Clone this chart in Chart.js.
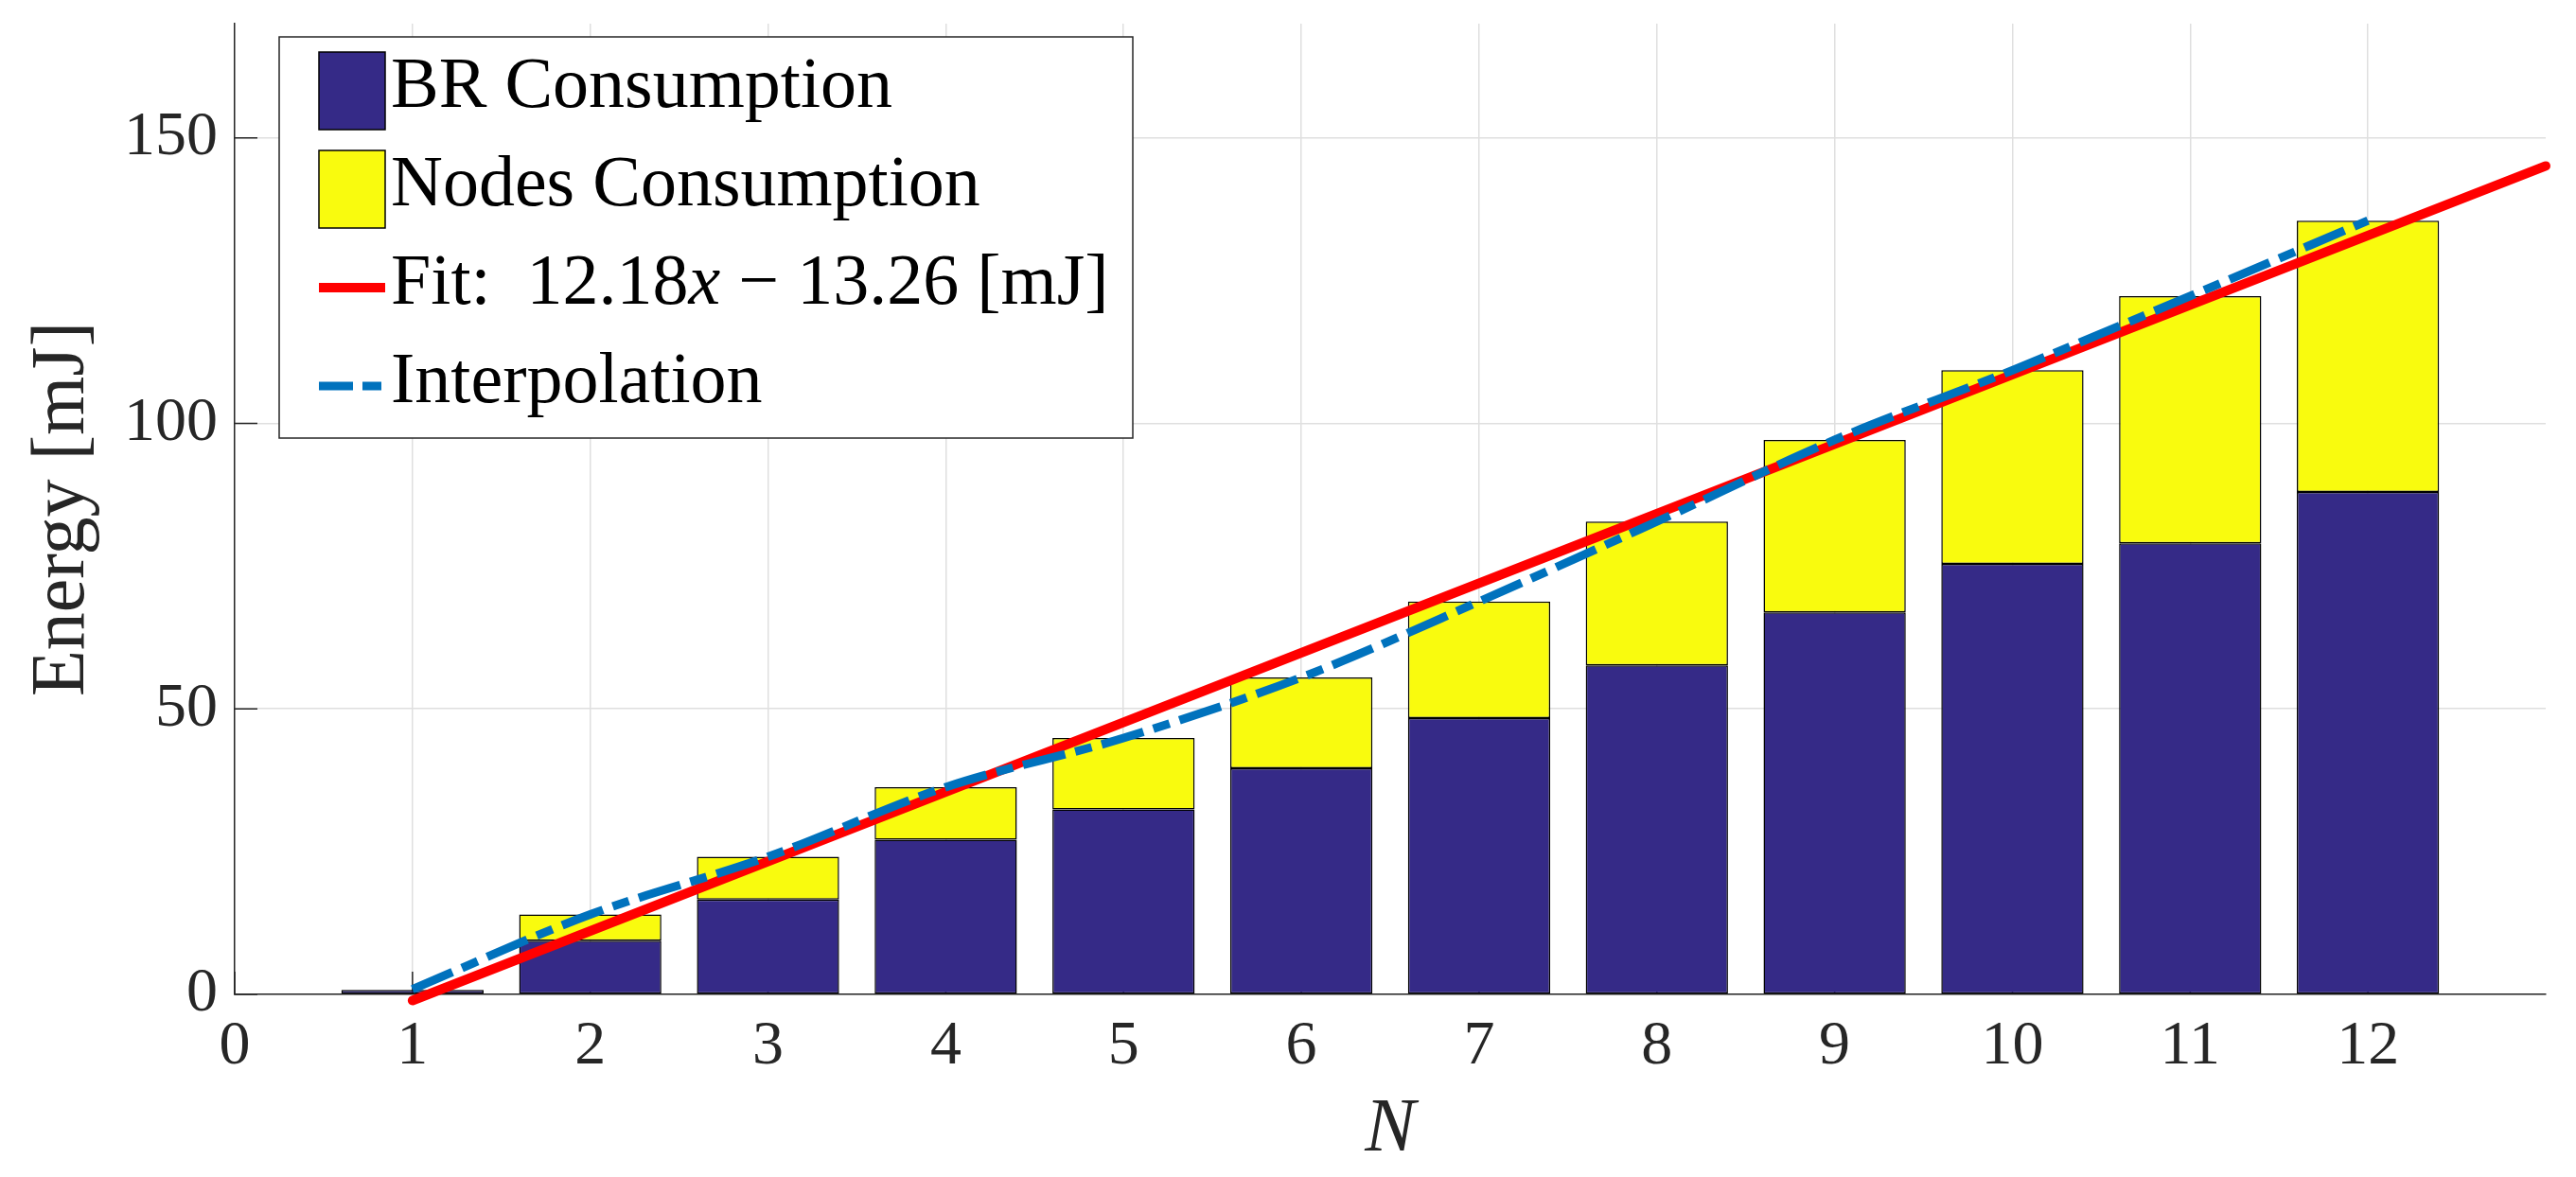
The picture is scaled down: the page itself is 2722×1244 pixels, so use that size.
<!DOCTYPE html>
<html>
<head>
<meta charset="utf-8">
<script src="https://cdn.jsdelivr.net/npm/chart.js@4.4.1/dist/chart.umd.min.js"></script>
<style>
    html, body { margin: 0; padding: 0; background: #fff; }
    #wrap { width: 2722px; height: 1244px; }
</style>
</head>
<body>
<div id="wrap"><canvas id="c" width="2722" height="1244"></canvas></div>
<script>
// values
const N_VALUES = [1, 2, 3, 4, 5, 6, 7, 8, 9, 10, 11, 12];
const BR_CONSUMPTION = [0.8, 9.4, 16.6, 27.1, 32.4, 39.6, 48.4, 57.6, 66.9, 75.4, 79.0, 88.0];
const NODES_CONSUMPTION = [0.0, 4.6, 7.5, 9.2, 12.5, 15.9, 20.4, 25.2, 30.2, 33.9, 43.3, 47.5];
const INTERP_VALUES = [0.9, 14.0, 24.1, 36.3, 44.9, 55.5, 68.8, 82.8, 97.1, 109.3, 122.3, 135.5];
const FIT_X = [1, 13];
const FIT_Y = [-1.08, 145.08];
const X_TICKS = [0, 1, 2, 3, 4, 5, 6, 7, 8, 9, 10, 11, 12];
const Y_TICKS = [0, 50, 100, 150];

const SERIF = "'Liberation Serif', 'DejaVu Serif', serif";
const AXIS_COLOR = '#262626';
const NAVY = '#352A87';
const YELLOW = '#F9FB0E';
const RED = '#FF0000';
const BLUE = '#0072BD';

const toPoints = (xs, ys) => xs.map((x, i) => ({ x: x, y: ys[i] }));

// legend text for the fit line, with the italic variable
const FIT_LABEL_PARTS = [
    { text: 'Fit:  12.18', italic: false },
    { text: 'x', italic: true },
    { text: ' \u2212 13.26 [mJ]', italic: false },
];

const innerTicks = {
    id: 'innerTicks',
    beforeDatasetsDraw(chart) {
        const { ctx, chartArea, scales } = chart;
        const len = 24;
        ctx.save();
        ctx.strokeStyle = AXIS_COLOR;
        ctx.lineWidth = 1.5;
        ctx.beginPath();
        X_TICKS.forEach(v => {
            const px = scales.x.getPixelForValue(v);
            ctx.moveTo(px, chartArea.bottom);
            ctx.lineTo(px, chartArea.bottom - len);
        });
        Y_TICKS.forEach(v => {
            const py = scales.y.getPixelForValue(v);
            ctx.moveTo(chartArea.left, py);
            ctx.lineTo(chartArea.left + len, py);
        });
        ctx.stroke();
        ctx.restore();
    }
};

const boxLegend = {
    id: 'boxLegend',
    afterDraw(chart) {
        const { ctx, chartArea } = chart;
        const left = chartArea.left + 47;
        const top = chartArea.top + 14;
        const w = 902;
        const h = 424;
        const pitch = 104;
        const firstRow = top + 57;
        const patchX = left + 42;
        const patchW = 70;
        const textX = left + 118;

        ctx.save();
        ctx.fillStyle = '#fff';
        ctx.fillRect(left, top, w, h);
        ctx.strokeStyle = AXIS_COLOR;
        ctx.lineWidth = 1.5;
        ctx.strokeRect(left, top, w, h);

        chart.data.datasets.forEach((ds, i) => {
            const cy = firstRow + i * pitch;
            if (ds.type === 'bar') {
                ctx.fillStyle = ds.backgroundColor;
                ctx.fillRect(patchX, cy - 41, patchW, 82);
                ctx.strokeStyle = '#000';
                ctx.lineWidth = 1.5;
                ctx.strokeRect(patchX, cy - 41, patchW, 82);
            } else {
                ctx.strokeStyle = ds.borderColor;
                ctx.lineWidth = ds.borderWidth;
                ctx.setLineDash(ds.legendDash || []);
                ctx.lineCap = 'butt';
                ctx.beginPath();
                ctx.moveTo(patchX, cy);
                ctx.lineTo(patchX + patchW, cy);
                ctx.stroke();
                ctx.setLineDash([]);
            }
            ctx.fillStyle = '#000';
            ctx.textBaseline = 'alphabetic';
            ctx.textAlign = 'left';
            const parts = ds.labelParts || [{ text: ds.label, italic: false }];
            let x = textX;
            parts.forEach(p => {
                ctx.font = (p.italic ? 'italic ' : '') + '76px ' + SERIF;
                ctx.fillText(p.text, x, cy + 17);
                x += ctx.measureText(p.text).width;
            });
        });
        ctx.restore();
    }
};

function draw() {
    const ctx = document.getElementById('c').getContext('2d');
    new Chart(ctx, {
        type: 'bar',
        data: {
            datasets: [
                {
                    type: 'bar',
                    label: 'BR Consumption',
                    data: toPoints(N_VALUES, BR_CONSUMPTION),
                    backgroundColor: NAVY,
                    borderColor: '#000',
                    borderWidth: 1.5,
                    borderSkipped: false,
                    barPercentage: 0.8,
                    categoryPercentage: 1.0,
                    order: 2,
                },
                {
                    type: 'bar',
                    label: 'Nodes Consumption',
                    data: toPoints(N_VALUES, NODES_CONSUMPTION),
                    backgroundColor: YELLOW,
                    borderColor: '#000',
                    borderWidth: 1.5,
                    borderSkipped: false,
                    barPercentage: 0.8,
                    categoryPercentage: 1.0,
                    order: 2,
                },
                {
                    type: 'line',
                    label: 'Fit: 12.18x \u2212 13.26 [mJ]',
                    labelParts: FIT_LABEL_PARTS,
                    data: toPoints(FIT_X, FIT_Y),
                    stack: 'fit',
                    borderColor: RED,
                    borderWidth: 10,
                    borderCapStyle: 'round',
                    pointRadius: 0,
                    fill: false,
                    clip: false,
                    order: 1,
                },
                {
                    type: 'line',
                    label: 'Interpolation',
                    data: toPoints(N_VALUES, INTERP_VALUES),
                    stack: 'interp',
                    borderColor: BLUE,
                    borderWidth: 9,
                    borderDash: [46, 11, 18, 11],
                    legendDash: [36, 10, 20, 10],
                    cubicInterpolationMode: 'monotone',
                    pointRadius: 0,
                    fill: false,
                    order: 0,
                },
            ],
        },
        options: {
            responsive: false,
            animation: false,
            devicePixelRatio: 1,
            layout: {
                padding: { top: 25, right: 32, left: 0, bottom: 0 },
            },
            plugins: {
                legend: { display: false },
                tooltip: { enabled: false },
            },
            scales: {
                x: {
                    type: 'linear',
                    stacked: true,
                    offset: false,
                    min: 0,
                    max: 13,
                    afterBuildTicks: (scale) => {
                        scale.ticks = X_TICKS.map(v => ({ value: v }));
                    },
                    afterFit: (scale) => { scale.height = 193; },
                    ticks: {
                        color: AXIS_COLOR,
                        font: { family: SERIF, size: 66 },
                        padding: 16,
                        maxRotation: 0,
                        autoSkip: false,
                    },
                    grid: {
                        color: '#dfdfdf',
                        lineWidth: 1.5,
                        drawTicks: false,
                        offset: false,
                    },
                    border: { color: AXIS_COLOR, width: 1.5 },
                    title: {
                        display: true,
                        text: 'N',
                        color: AXIS_COLOR,
                        font: { family: SERIF, size: 80, style: 'italic' },
                        padding: { top: 0, bottom: 1 },
                    },
                },
                y: {
                    stacked: true,
                    min: 0,
                    max: 170,
                    afterBuildTicks: (scale) => {
                        scale.ticks = Y_TICKS.map(v => ({ value: v }));
                    },
                    afterFit: (scale) => {
                        scale.width = 248;
                        scale.paddingTop = 0;
                        scale.paddingBottom = 0;
                    },
                    ticks: {
                        color: AXIS_COLOR,
                        font: { family: SERIF, size: 66 },
                        padding: 18,
                    },
                    grid: {
                        color: '#dfdfdf',
                        lineWidth: 1.5,
                        drawTicks: false,
                    },
                    border: { color: AXIS_COLOR, width: 1.5 },
                    title: {
                        display: true,
                        text: 'Energy [mJ]',
                        color: AXIS_COLOR,
                        font: { family: SERIF, size: 80 },
                        padding: { top: 19, bottom: 0 },
                    },
                },
            },
        },
        plugins: [innerTicks, boxLegend],
    });
}

Promise.all([
    document.fonts.load("66px 'Liberation Serif'"),
    document.fonts.load("italic 66px 'Liberation Serif'"),
]).catch(() => {}).then(draw);
</script>
</body>
</html>
